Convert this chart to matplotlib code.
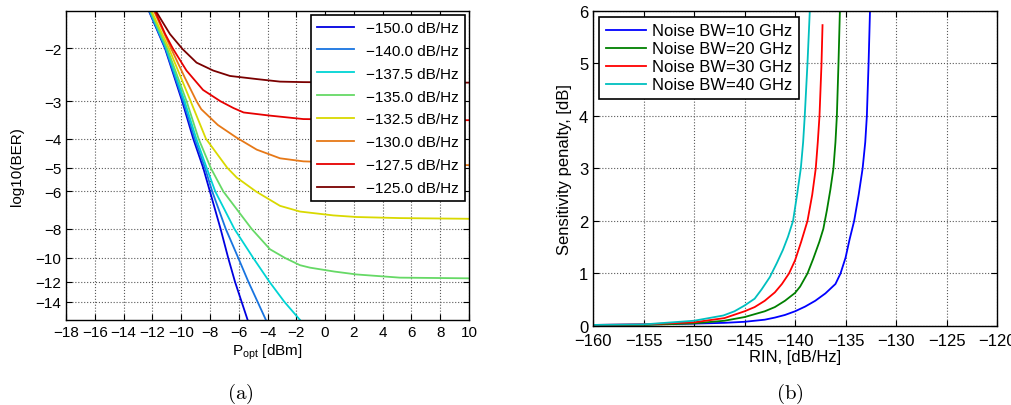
import matplotlib
matplotlib.use('Agg')
import matplotlib.pyplot as plt
import numpy as np

plt.rcParams['font.family'] = ['Liberation Sans', 'DejaVu Sans']
plt.rcParams['mathtext.fontset'] = 'custom'
plt.rcParams['mathtext.rm'] = 'Liberation Sans'

# ---- (a) BER vs received power, one curve per RIN level ----
rin_labels = ['\u2212150.0 dB/Hz', '\u2212140.0 dB/Hz', '\u2212137.5 dB/Hz', '\u2212135.0 dB/Hz',
              '\u2212132.5 dB/Hz', '\u2212130.0 dB/Hz', '\u2212127.5 dB/Hz', '\u2212125.0 dB/Hz']
rin_colors = ['#0000e0', '#1874e0', '#00d4d4', '#66d966',
              '#d9d900', '#e67817', '#e60000', '#7a0000']

p_150 = [-12.24, -11.12, -9.93, -9.16, -8.47, -8.0, -7.26, -6.73, -6.26, -5.80, -5.38]
ber_150 = [-1.5, -2, -3, -4, -5, -6, -8, -10, -12, -14, -16.1]
p_140 = [-12.22, -11.09, -9.86, -9.06, -8.35, -7.84, -6.9, -6.03, -5.33, -4.69, -4.11]
ber_140 = [-1.5, -2, -3, -4, -5, -6, -8, -10, -12, -14, -16.1]
p_1375 = [-12.17, -11.04, -9.76, -8.95, -8.23, -7.63, -6.3, -4.99, -3.87, -2.83, -1.74]
ber_1375 = [-1.5, -2, -3, -4, -5, -6, -8, -10, -12, -14, -16.1]
p_135 = [-12.13, -10.97, -9.62, -8.79, -7.95, -7.07, -5.1, -3.83, -2.78, -1.74, -1.05,
         0.65, 2.2, 5.2, 10]
ber_135 = [-1.5, -2, -3, -4, -5, -6, -8, -9.35, -10, -10.57, -10.77,
           -11.1, -11.35, -11.63, -11.69]
p_1325 = [-12.06, -10.85, -9.34, -8.28, -6.8, -6.14, -4.8, -3.13, -1.74, 0.57, 2.2, 5.2, 10]
ber_1325 = [-1.5, -2, -3, -4, -5, -5.39, -6.0, -6.7, -7.0, -7.21, -7.3, -7.36, -7.4]
p_130 = [-11.89, -10.7, -9.75, -8.93, -8.6, -7.45, -6.14, -4.75, -3.13, -1.51, 4, 10]
ber_130 = [-1.5, -2, -2.5, -3, -3.19, -3.6, -3.97, -4.35, -4.65, -4.76, -4.86, -4.9]
p_1275 = [-11.82, -11.11, -10.58, -9.63, -8.48, -7.27, -6.37, -5.66, -3.83, -1.51, 3, 10]
ber_1275 = [-1.5, -1.79, -2, -2.37, -2.75, -3.0, -3.16, -3.27, -3.35, -3.44, -3.46, -3.47]
p_125 = [-11.76, -10.78, -9.9, -8.93, -7.77, -6.61, -4.75, -3.13, -1.5, 3, 10]
ber_125 = [-1.5, -1.79, -2.01, -2.23, -2.37, -2.47, -2.53, -2.58, -2.59, -2.6, -2.6]

p_curves = [p_150, p_140, p_1375, p_135, p_1325, p_130, p_1275, p_125]
ber_curves = [ber_150, ber_140, ber_1375, ber_135, ber_1325, ber_130, ber_1275, ber_125]
ber_ticks = [-2, -3, -4, -5, -6, -8, -10, -12, -14]

# ---- (b) sensitivity penalty vs RIN, one curve per noise bandwidth ----
bw_labels = ['Noise BW=10 GHz', 'Noise BW=20 GHz', 'Noise BW=30 GHz', 'Noise BW=40 GHz']
bw_colors = ['b', 'g', 'r', 'c']

rin_10 = [-160, -155, -150, -147, -145, -143, -142, -141, -140, -139, -138, -137, -136,
          -135.5, -135, -134.6, -134.15, -133.7, -133.31, -133.05, -132.89, -132.72, -132.58]
pen_10 = [0.02, 0.03, 0.045, 0.06, 0.08, 0.12, 0.16, 0.21, 0.28, 0.37, 0.48, 0.62, 0.8,
          1.0, 1.3, 1.65, 2.0, 2.5, 3.0, 3.5, 4.0, 5.0, 6.0]
rin_20 = [-160, -155, -150, -147, -145, -143, -142, -141, -140, -139.5, -138.77, -138.2,
          -137.6, -137.2, -136.85, -136.5, -136.2, -136.0, -135.86, -135.7, -135.56]
pen_20 = [0.01, 0.02, 0.05, 0.1, 0.17, 0.28, 0.36, 0.48, 0.63, 0.75, 1.0, 1.28,
          1.6, 1.85, 2.2, 2.6, 3.0, 3.5, 4.0, 5.0, 6.0]
rin_30 = [-160, -155, -150, -147, -145, -144, -143, -142, -141.3, -140.6, -140, -139.4,
          -138.77, -138.3, -137.95, -137.75, -137.58, -137.38, -137.28]
pen_30 = [0.02, 0.03, 0.07, 0.15, 0.28, 0.36, 0.48, 0.64, 0.8, 1.0, 1.25, 1.6,
          2.0, 2.5, 3.0, 3.5, 4.0, 5.0, 5.73]
rin_40 = [-160, -155, -150, -147.1, -146, -145, -144, -143.3, -142.5, -141.8, -141.2,
          -140.7, -140.2, -139.8, -139.43, -139.2, -139.04, -138.77, -138.54]
pen_40 = [0.02, 0.03, 0.1, 0.2, 0.28, 0.39, 0.52, 0.7, 0.93, 1.2, 1.45,
          1.7, 2.0, 2.5, 3.0, 3.5, 4.0, 5.0, 6.0]

rin_curves = [rin_10, rin_20, rin_30, rin_40]
pen_curves = [pen_10, pen_20, pen_30, pen_40]


def ber_fwd(v):
    with np.errstate(divide='ignore', invalid='ignore'):
        return -np.log10(np.abs(v))


def ber_inv(t):
    return -10.0 ** (-t)


def style_axes(ax, size):
    ax.grid(True, linestyle=':', color='0.35', linewidth=0.8)
    ax.tick_params(direction='in', top=True, right=True, labelsize=size, length=4)
    for s in ax.spines.values():
        s.set_linewidth(1.0)


fig = plt.figure(figsize=(10.11, 4.06), dpi=100)

ax1 = fig.add_axes([0.0653, 0.2094, 0.3986, 0.761])
for p, b, lab, col in zip(p_curves, ber_curves, rin_labels, rin_colors):
    ax1.plot(p, b, color=col, lw=1.3, label=lab)
ax1.set_yscale('function', functions=(ber_fwd, ber_inv))
ax1.set_ylim(-16.1, -1.5)
ax1.set_yticks(ber_ticks)
ax1.set_yticklabels([('\u2212%d' % -t) for t in ber_ticks])
ax1.minorticks_off()
ax1.set_xlim(-18, 10)
ax1.set_xticks(np.arange(-18, 11, 2))
style_axes(ax1, 11)
ax1.set_xlabel(r'P$_{\rm opt}$ [dBm]', fontsize=11, labelpad=2)
ax1.set_ylabel('log10(BER)', fontsize=11, labelpad=8)
leg1 = ax1.legend(loc='upper right', fontsize=11, fancybox=False, framealpha=1,
                  edgecolor='k', handlelength=2.4, borderaxespad=0.25, labelspacing=0.58)
leg1.get_frame().set_linewidth(1.2)

ax2 = fig.add_axes([0.5866, 0.1946, 0.3996, 0.776])
for r, pen, lab, col in zip(rin_curves, pen_curves, bw_labels, bw_colors):
    ax2.plot(r, pen, color=col, lw=1.3, label=lab)
ax2.set_xlim(-160, -120)
ax2.set_ylim(0, 6)
ax2.set_xticks(np.arange(-160, -119, 5))
ax2.set_yticks(np.arange(0, 7, 1))
style_axes(ax2, 12)
ax2.tick_params(axis='x', pad=5)
ax2.set_xlabel('RIN, [dB/Hz]', fontsize=12, labelpad=1)
ax2.set_ylabel('Sensitivity penalty, [dB]', fontsize=12, labelpad=5)
leg2 = ax2.legend(loc='upper left', fontsize=12, fancybox=False, framealpha=1,
                  edgecolor='k', handlelength=2.4, borderaxespad=0.35, labelspacing=0.18,
                  handletextpad=0.4)
leg2.get_frame().set_linewidth(1.2)

fig.text(0.2374, 0.03, r'$\mathrm{(a)}$', ha='center', va='center', fontsize=15,
         math_fontfamily='cm')
fig.text(0.7814, 0.03, r'$\mathrm{(b)}$', ha='center', va='center', fontsize=15,
         math_fontfamily='cm')

fig.savefig('out.png', dpi=100)
